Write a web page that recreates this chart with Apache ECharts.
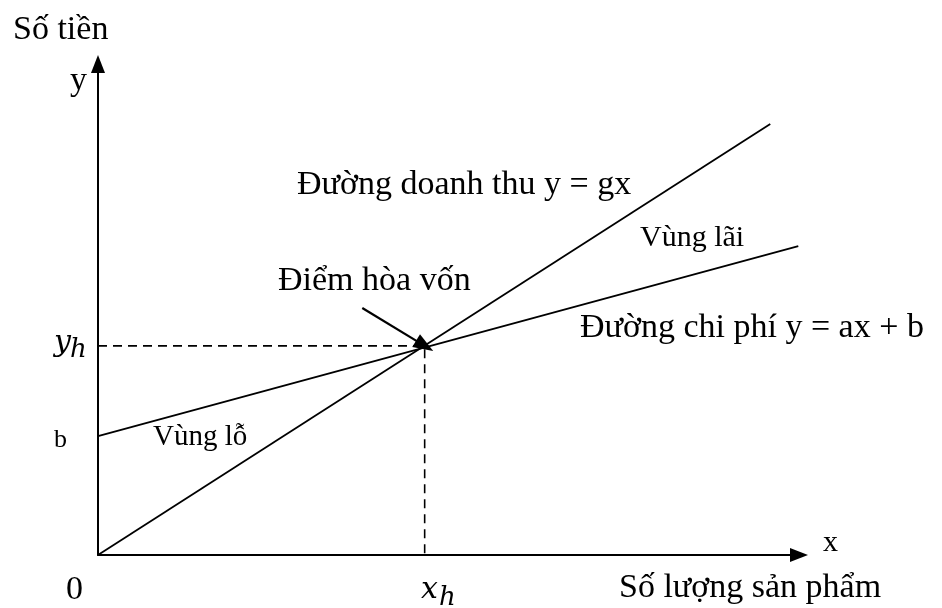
<!DOCTYPE html>
<html>
<head>
<meta charset="utf-8">
<script src="https://cdn.jsdelivr.net/npm/echarts@6/dist/echarts.min.js"></script>
<style>
  html, body { margin: 0; padding: 0; background: #fff; }
  #hoa-von { width: 942px; height: 608px; }
</style>
</head>
<body>
<div id="hoa-von"></div>
<script>
// doanh thu y = gx
const revenueLine = [[0, 0], [95.9, 87.8]];
// chi phi y = ax + b
const costLine = [[0, 24.2], [99.9, 62.9]];
// diem hoa von (x_h, y_h)
const breakEven = [46.6, 42.6];
const arrowStart = [37.7, 50.3];

const serif = 'Liberation Serif';
const mathFont = 'DejaVu Serif';

function txt(text, x, y, size, align, family, italic) {
  return {
    type: 'text',
    x: x,
    y: y,
    silent: true,
    style: {
      text: text,
      fontSize: size,
      fontFamily: family || serif,
      fontStyle: italic ? 'italic' : 'normal',
      fill: '#000',
      textAlign: align || 'left',
      textVerticalAlign: 'middle',
    },
  };
}

const myChart = echarts.init(document.getElementById('hoa-von'));
const axisCommon = {
  type: 'value',
  min: 0,
  max: 100,
  axisLine: {
    show: true,
    symbol: ['none', 'triangle'],
    symbolSize: [14, 18],
    lineStyle: { color: '#000', width: 2 },
  },
  axisTick: { show: false },
  axisLabel: { show: false },
  splitLine: { show: false },
};

const option = {
  animation: false,
  grid: { left: 98, right: 143, top: 64, bottom: 53 },
  xAxis: axisCommon,
  yAxis: axisCommon,
  series: [
    {
      type: 'line',
      data: revenueLine,
      symbol: 'none',
      lineStyle: { color: '#000', width: 1.8 },
    },
    {
      type: 'line',
      data: costLine,
      symbol: 'none',
      lineStyle: { color: '#000', width: 1.8 },
      markLine: {
        silent: true,
        label: { show: false },
        lineStyle: { color: '#000', width: 2.2, type: 'solid' },
        data: [[
          { coord: arrowStart, symbol: 'none' },
          { coord: breakEven, symbol: 'triangle', symbolSize: [15, 20] },
        ]],
      },
    },
    {
      // duong gach noi
      type: 'line',
      data: [[0, breakEven[1]], breakEven, [breakEven[0], 0]],
      symbol: 'none',
      lineStyle: { color: '#000', width: 1.6, type: [9, 6] },
    },
  ],
  graphic: [
    txt('Số tiền', 13, 30.5, 34),
    txt('y', 70, 81, 34),
    txt('Đường doanh thu y = gx', 297, 185.5, 34),
    txt('Vùng lãi', 640, 238, 30),
    txt('Điểm hòa vốn', 278, 281.5, 34),
    txt('Đường chi phí y = ax + b', 580, 328.5, 34),
    txt('Vùng lỗ', 153, 437, 29),
    txt('b', 67, 440, 26, 'right'),
    txt('0', 66, 590.5, 34),
    txt('x', 823, 543, 30),
    txt('Số lượng sản phẩm', 619, 588.5, 34),
    txt('y', 54, 343, 30, 'left', mathFont, true),
    txt('h', 70, 350, 26, 'left', mathFont, true),
    txt('x', 421, 590, 30, 'left', mathFont, true),
    txt('h', 439, 598, 26, 'left', mathFont, true),
  ],
};

myChart.setOption(option);
</script>
</body>
</html>
